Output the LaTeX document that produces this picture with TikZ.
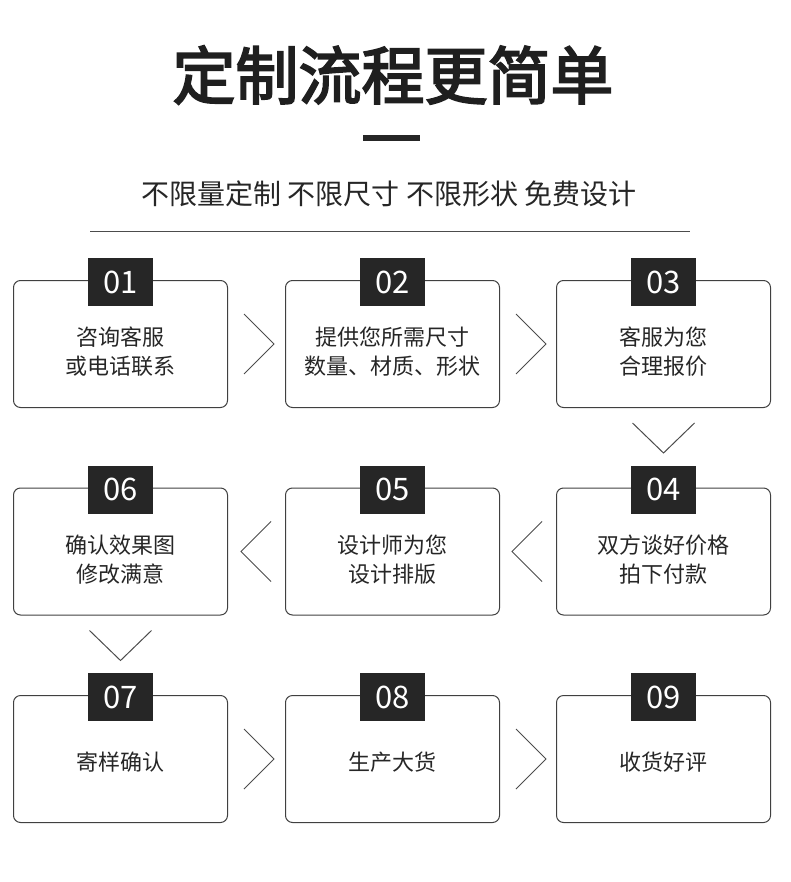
\documentclass[tikz,border=0pt]{standalone}
\usepackage{fontspec}
\setmainfont{Noto Sans CJK SC}
\newfontfamily\cjkbold{Noto Sans CJK SC}[FakeBold=3]
\begin{document}
\begin{tikzpicture}[x=1pt,y=-1pt,
 box/.style={draw=black!75,line width=1pt,rounded corners=7pt,minimum width=214pt,minimum height=127pt,anchor=north west},
 badge/.style={fill=black!85,text=white,minimum width=65pt,minimum height=48pt,font=\fontsize{31}{31}\selectfont,inner sep=0pt},
 lbl/.style={align=center,font=\fontsize{22}{29}\selectfont,text=black!85},
 chev/.style={draw=black!70,line width=1pt}]
\useasboundingbox (0,0) rectangle (790,882);
\node[font=\cjkbold\fontsize{63}{63}\selectfont,text=black!88] (title) at (393,75) {定制流程更简单};
\fill[black!85] (363,135) rectangle (420,141);
\node[font=\fontsize{28}{28}\selectfont,text=black!85] (sub) at (389,194) {不限量定制 不限尺寸 不限形状 免费设计};
\draw[black!70,line width=0.8pt] (90,231) -- (690,231);
\def\cols{{13,285,556}}
\foreach \n/\c/\r/\s/\t in {01/0/0/-8/{咨询客服\\或电话联系},02/1/0/-8/{提供您所需尺寸\\数量、材质、形状},03/2/0/-8/{客服为您\\合理报价},
 04/2/1/-8/{双方谈好价格\\拍下付款},05/1/1/-8/{设计师为您\\设计排版},06/0/1/-8/{确认效果图\\修改满意},
 07/0/2/-3/{寄样确认},08/1/2/-3/{生产大货},09/2/2/-3/{收货好评}}{
 \pgfmathsetmacro\xx{\cols[\c]}
 \pgfmathsetmacro\yy{280+\r*207.5}
 \node[box] (b\n) at (\xx,\yy) {};
 \node[badge] (n\n) at ([yshift=-2pt]b\n.north) {\n};
 \node[lbl] (t\n) at ([yshift=\s pt]b\n.center) {\t};
}
\foreach \a/\b in {01/02,02/03,07/08,08/09}{
 \draw[chev] ([xshift=16pt,yshift=-30pt]b\a.east) -- ([xshift=46pt]b\a.east) -- ([xshift=16pt,yshift=30pt]b\a.east);}
\foreach \a/\b in {04/05,05/06}{
 \draw[chev] ([xshift=-14pt,yshift=-30pt]b\a.west) -- ([xshift=-44pt]b\a.west) -- ([xshift=-14pt,yshift=30pt]b\a.west);}
\foreach \a in {03,06}{
 \draw[chev] ([xshift=-31pt,yshift=-15pt]b\a.south) -- ([yshift=-45pt]b\a.south) -- ([xshift=31pt,yshift=-15pt]b\a.south);}
\end{tikzpicture}
\end{document}
